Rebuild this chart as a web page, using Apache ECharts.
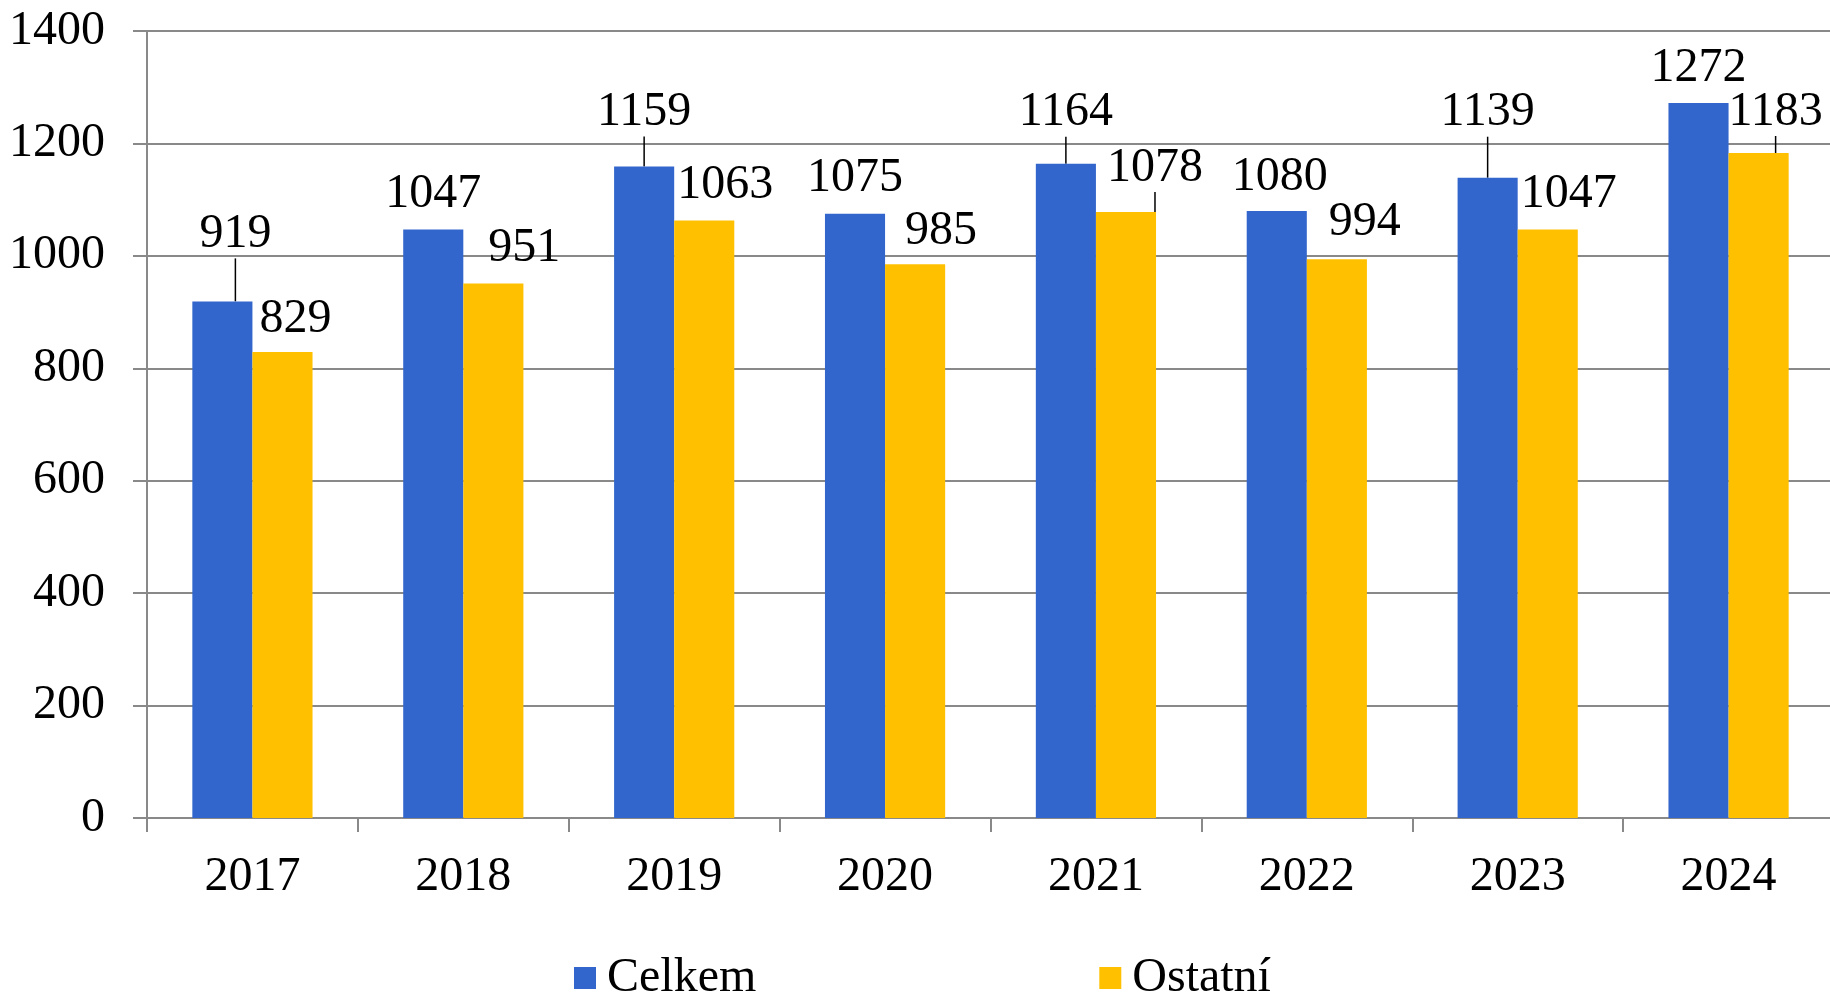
<!DOCTYPE html>
<html>
<head>
<meta charset="utf-8">
<style>
  html, body { margin: 0; padding: 0; background: #fff; }
  #chart { width: 1830px; height: 994px; }
</style>
<script src="https://cdn.jsdelivr.net/npm/echarts@6/dist/echarts.min.js"></script>
</head>
<body>
<div id="chart"></div>
<script>
const years = ['2017', '2018', '2019', '2020', '2021', '2022', '2023', '2024'];
const celkem = [919, 1047, 1159, 1075, 1164, 1080, 1139, 1272];
const ostatni = [829, 951, 1063, 985, 1078, 994, 1047, 1183];
const yMin = 0, yMax = 1400, yStep = 200;

// label nudges (px) and which labels get a leader line, like the original
const celkemShift = [[13, -32], [0, 0], [0, -19], [0, 0], [0, -16], [3, 2], [0, -30], [0, 0]];
const ostatniShift = [[13, 2], [31, 0], [21, 0], [26, 2], [29, -9], [28, -2], [21, 0], [17, -6]];
const celkemLeader = [0, 2, 4, 6];
const ostatniLeader = [4, 7];

const font = '"Liberation Serif", "Times New Roman", serif';
const gray = '#898989';

const chart = echarts.init(document.getElementById('chart'));

function makeSeries(name, values, color, shifts, leaders) {
  return {
    name,
    type: 'bar',
    barGap: '0%',
    barCategoryGap: '43%',
    itemStyle: { color },
    label: {
      show: true,
      position: 'top',
      distance: 11,
      color: '#000',
      fontFamily: font,
      fontSize: 48
    },
    labelLine: { show: false, lineStyle: { color: '#000', width: 1.5 } },
    labelLayout: (p) => ({ dx: shifts[p.dataIndex][0], dy: shifts[p.dataIndex][1] }),
    data: values.map((value, idx) => ({
      value,
      labelLine: { show: leaders.includes(idx) }
    }))
  };
}

const option = {
  animation: false,
  backgroundColor: '#fff',
  textStyle: { fontFamily: font, color: '#000' },
  grid: { left: 147, right: -4, top: 31, bottom: 176, outerBoundsMode: 'none' },
  legend: {
    left: 569,
    top: 949,
    itemWidth: 22,
    itemHeight: 22,
    itemGap: 343,
    icon: 'rect',
    textStyle: { fontFamily: font, fontSize: 48, color: '#000', padding: [0, 0, 0, 6] },
    data: ['Celkem', 'Ostatní']
  },
  xAxis: {
    type: 'category',
    data: years,
    axisLine: { lineStyle: { color: gray, width: 2 } },
    axisTick: { show: true, length: 14, lineStyle: { color: gray, width: 2 } },
    axisLabel: { color: '#000', fontFamily: font, fontSize: 48, margin: 35 }
  },
  yAxis: {
    type: 'value',
    min: yMin,
    max: yMax,
    interval: yStep,
    axisLine: { show: true, lineStyle: { color: gray, width: 2 } },
    axisTick: { show: true, length: 14, lineStyle: { color: gray, width: 2 } },
    splitLine: { lineStyle: { color: gray, width: 2 } },
    axisLabel: {
      color: '#000',
      fontFamily: font,
      fontSize: 48,
      margin: 42,
      formatter: (v) => String(v)
    }
  },
  series: [
    makeSeries('Celkem', celkem, '#3366CC', celkemShift, celkemLeader),
    makeSeries('Ostatní', ostatni, '#FFC000', ostatniShift, ostatniLeader)
  ]
};

chart.setOption(option);
window.addEventListener('resize', () => chart.resize());
</script>
</body>
</html>
